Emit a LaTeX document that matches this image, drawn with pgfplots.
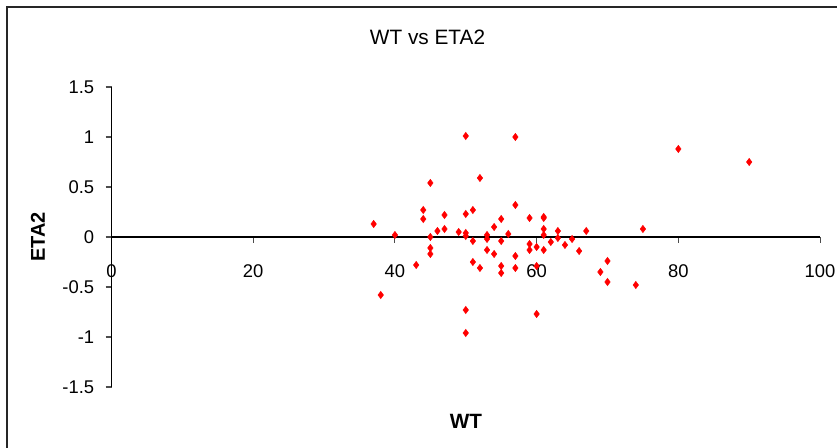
\documentclass[border=0pt]{standalone}
\usepackage{pgfplots}
\pgfplotsset{compat=1.18}
\usepackage{fontspec}
\setmainfont{Liberation Sans}

\pgfplotstableread{
wt eta
50 1.01
57 1.00
52 0.59
45 0.54
57 0.32
44 0.27
51 0.27
44 0.18
47 0.22
50 0.23
55 0.18
37 0.13
54 0.10
47 0.08
46 0.06
49 0.05
50 0.04
40 0.02
50 0.01
45 0.00
53 0.02
53 -0.02
56 0.03
51 -0.04
55 -0.04
45 -0.11
45 -0.17
53 -0.13
54 -0.17
57 -0.19
43 -0.28
51 -0.25
52 -0.31
55 -0.29
55 -0.36
57 -0.31
38 -0.58
50 -0.73
50 -0.96
59 0.19
61 0.19
61 0.20
61 0.08
63 0.06
67 0.06
75 0.08
61 0.02
63 -0.01
65 -0.02
62 -0.05
59 -0.07
60 -0.10
59 -0.13
61 -0.13
64 -0.08
66 -0.14
60 -0.29
70 -0.24
69 -0.35
70 -0.45
74 -0.48
60 -0.77
80 0.88
90 0.75
}\etadata

\begin{document}
\begin{tikzpicture}[x=0.75pt,y=0.75pt]
% page area and chart frame
\path[use as bounding box] (0,0) rectangle (837,448);
\draw[line width=1.3pt,black!85] (7,-20) -- (7,441) -- (860,441);

\begin{axis}[
  at={(83.625pt,45.75pt)}, anchor=south west,
  scale only axis,
  width=531.4pt, height=225pt,
  xmin=0, xmax=100, ymin=-1.5, ymax=1.5,
  axis lines=middle,
  axis line style={-, black, line width=0.8pt},
  hide obscured x ticks=false, hide obscured y ticks=false,
  xtick={0,20,40,60,80,100},
  xticklabels={0,20,40,60,80,100},
  ytick={-1.5,-1,-0.5,0,0.5,1,1.5},
  yticklabels={-1.5,-1,-0.5,0,0.5,1,1.5},
  tick align=outside,
  major tick length=4.5pt,
  tick style={black!70, line width=0.8pt},
  ticklabel style={font=\fontsize{13.8}{16}\selectfont},
  xticklabel style={anchor=north, yshift=-12.5pt},
  yticklabel style={anchor=east, xshift=-5pt},
  clip=false,
]
\addplot[only marks, mark=diamond*, mark size=2.7pt, red, mark options={draw=red, fill=red}]
  table[x=wt, y=eta] {\etadata};
\end{axis}

\node[font=\fontsize{15.6}{18}\selectfont] at (427.5,411) {WT vs ETA2};
\node[font=\bfseries\fontsize{15.5}{18}\selectfont] at (466,27) {WT};
\node[font=\bfseries\fontsize{15}{18}\selectfont, rotate=90] at (38,211) {ETA2};
\end{tikzpicture}
\end{document}
